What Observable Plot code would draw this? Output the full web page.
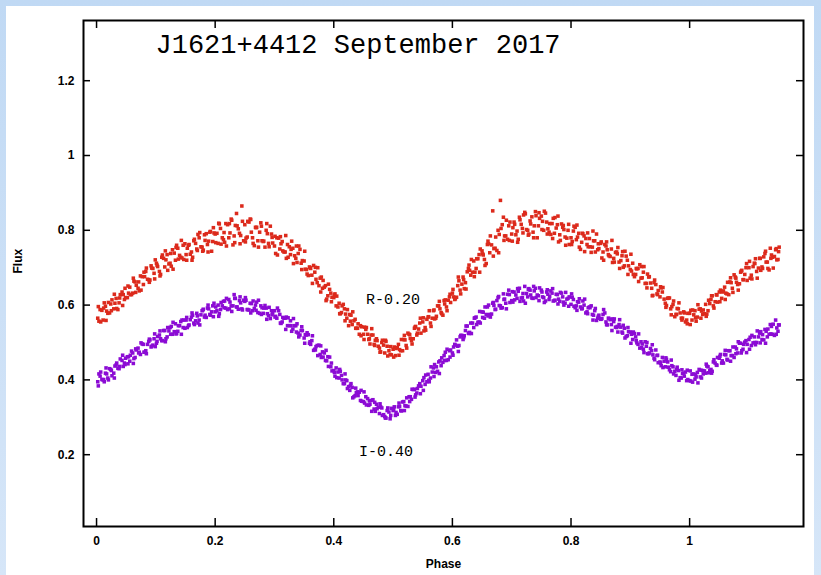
<!DOCTYPE html>
<html><head><meta charset="utf-8">
<script src="https://cdn.jsdelivr.net/npm/d3@7"></script>
<script src="https://cdn.jsdelivr.net/npm/@observablehq/plot@0.6"></script>
<style>
html,body{margin:0;padding:0;width:821px;height:575px;overflow:hidden;background:linear-gradient(180deg,#c0d9f4,#d6e6f8);}
#panel{position:absolute;left:6px;top:6px;width:808px;height:569px;background:#fff;}
#chart{position:absolute;left:0;top:0;}
</style></head><body><div id="panel"></div><div id="chart"></div>
<script>
const title = "J1621+4412 September 2017";
// first set of nightly points
const phase = [
0.002,0.006,0.011,0.015,0.019,0.024,0.029,0.033,0.038,0.043,0.047,
0.052,0.056,0.061,0.065,0.070,0.074,0.079,0.083,0.088,0.092,0.097,
0.101,0.106,0.110,0.115,0.119,0.124,0.128,0.133,0.137,0.142,0.146,
0.151,0.155,0.160,0.164,0.169,0.173,0.178,0.182,0.187,0.191,0.196,
0.200,0.205,0.209,0.214,0.218,0.223,0.227,0.232,0.236,0.241,0.245,
0.250,0.254,0.259,0.263,0.268,0.272,0.277,0.281,0.286,0.290,0.295,
0.300,0.304,0.309,0.313,0.318,0.322,0.327,0.331,0.336,0.340,0.345,
0.350,0.354,0.359,0.363,0.368,0.372,0.377,0.381,0.386,0.390,0.395,
0.400,0.404,0.409,0.413,0.418,0.422,0.427,0.431,0.436,0.440,0.445,
0.450,0.454,0.459,0.463,0.468,0.472,0.477,0.481,0.486,0.490,0.495,
0.500,0.504,0.509,0.513,0.518,0.522,0.527,0.531,0.536,0.540,0.545,
0.550,0.554,0.559,0.563,0.568,0.572,0.577,0.581,0.586,0.590,0.595,
0.600,0.604,0.609,0.613,0.618,0.622,0.627,0.631,0.636,0.640,0.645,
0.650,0.654,0.659,0.663,0.668,0.672,0.677,0.681,0.686,0.690,0.695,
0.700,0.704,0.709,0.713,0.718,0.722,0.727,0.731,0.736,0.740,0.745,
0.750,0.754,0.759,0.763,0.768,0.772,0.777,0.781,0.786,0.790,0.795,
0.800,0.804,0.809,0.813,0.818,0.822,0.827,0.831,0.836,0.840,0.845,
0.850,0.854,0.859,0.863,0.868,0.872,0.877,0.881,0.886,0.890,0.895,
0.900,0.904,0.909,0.913,0.918,0.922,0.927,0.931,0.936,0.940,0.945,
0.950,0.954,0.959,0.963,0.968,0.972,0.977,0.981,0.986,0.990,0.995,
1.000,1.004,1.009,1.013,1.018,1.022,1.027,1.031,1.036,1.040,1.045,
1.050,1.054,1.059,1.063,1.068,1.072,1.077,1.081,1.086,1.090,1.095,
1.100,1.104,1.109,1.113,1.118,1.122,1.127,1.131,1.136,1.140,1.145,1.149
];
const fluxR = [
0.565,0.588,0.560,0.597,0.578,0.603,0.590,0.618,0.606,0.635,0.615,
0.620,0.648,0.632,0.662,0.645,0.678,0.655,0.690,0.668,0.705,0.685,
0.712,0.690,0.728,0.702,0.735,0.712,0.748,0.720,0.752,0.728,0.760,
0.735,0.760,0.742,0.772,0.750,0.780,0.755,0.788,0.762,0.795,0.770,
0.790,0.765,0.805,0.775,0.818,0.780,0.830,0.785,0.845,0.792,0.865,
0.815,0.782,0.830,0.780,0.808,0.772,0.820,0.770,0.800,0.765,0.790,
0.758,0.780,0.750,0.770,0.742,0.762,0.735,0.752,0.725,0.738,0.712,
0.718,0.695,0.702,0.680,0.688,0.660,0.672,0.645,0.652,0.625,0.632,
0.620,0.598,0.605,0.580,0.590,0.565,0.575,0.548,0.562,0.538,0.545,
0.522,0.535,0.508,0.520,0.495,0.510,0.485,0.500,0.472,0.490,0.468,
0.482,0.465,0.495,0.478,0.508,0.492,0.522,0.505,0.538,0.520,0.552,
0.555,0.540,0.568,0.552,0.585,0.565,0.598,0.580,0.612,0.595,0.622,
0.632,0.615,0.652,0.640,0.675,0.660,0.698,0.680,0.718,0.698,0.735,
0.745,0.722,0.762,0.740,0.852,0.752,0.800,0.880,0.835,0.785,0.812,
0.790,0.822,0.798,0.835,0.805,0.848,0.800,0.825,0.795,0.850,0.812,
0.838,0.800,0.822,0.795,0.818,0.792,0.815,0.788,0.808,0.782,0.800,
0.780,0.798,0.775,0.792,0.768,0.785,0.762,0.778,0.755,0.772,0.748,
0.765,0.742,0.758,0.735,0.750,0.725,0.742,0.715,0.732,0.705,0.720,
0.695,0.712,0.682,0.698,0.672,0.688,0.658,0.675,0.645,0.660,0.630,
0.622,0.635,0.605,0.618,0.590,0.602,0.575,0.590,0.565,0.582,0.560,
0.578,0.560,0.585,0.568,0.590,0.575,0.602,0.585,0.615,0.598,0.628,
0.635,0.618,0.648,0.630,0.662,0.645,0.675,0.655,0.688,0.668,0.700,
0.700,0.680,0.712,0.690,0.725,0.702,0.738,0.715,0.752,0.728,0.748,0.722
];
const fluxI = [
0.395,0.410,0.400,0.418,0.405,0.428,0.418,0.440,0.430,0.452,0.445,
0.462,0.450,0.472,0.460,0.485,0.468,0.495,0.478,0.503,0.488,0.510,
0.498,0.520,0.505,0.532,0.515,0.540,0.522,0.550,0.530,0.556,0.540,
0.560,0.545,0.568,0.552,0.578,0.560,0.585,0.568,0.592,0.575,0.598,
0.582,0.600,0.588,0.610,0.592,0.615,0.598,0.628,0.595,0.612,0.590,
0.610,0.588,0.605,0.585,0.600,0.580,0.598,0.578,0.592,0.572,0.585,
0.585,0.565,0.575,0.555,0.565,0.545,0.558,0.536,0.545,0.525,0.532,
0.512,0.520,0.498,0.505,0.482,0.492,0.468,0.475,0.452,0.462,0.435,
0.425,0.432,0.405,0.412,0.390,0.398,0.372,0.380,0.358,0.368,0.345,
0.342,0.355,0.332,0.345,0.322,0.335,0.310,0.325,0.302,0.318,0.296,
0.318,0.305,0.328,0.318,0.342,0.330,0.355,0.348,0.375,0.365,0.390,
0.398,0.388,0.415,0.405,0.432,0.420,0.448,0.438,0.465,0.452,0.478,
0.472,0.495,0.490,0.515,0.508,0.532,0.525,0.552,0.540,0.568,0.555,
0.582,0.565,0.595,0.575,0.605,0.588,0.620,0.598,0.630,0.605,0.640,
0.612,0.635,0.618,0.645,0.620,0.650,0.622,0.640,0.618,0.645,0.625,
0.640,0.620,0.635,0.615,0.632,0.612,0.628,0.610,0.622,0.605,0.618,
0.602,0.615,0.598,0.608,0.590,0.600,0.582,0.595,0.575,0.585,0.565,
0.562,0.575,0.555,0.565,0.548,0.556,0.540,0.548,0.528,0.538,0.518,
0.528,0.508,0.515,0.495,0.502,0.482,0.490,0.470,0.478,0.458,0.465,
0.448,0.460,0.435,0.448,0.422,0.435,0.412,0.425,0.405,0.418,0.398,
0.398,0.415,0.402,0.420,0.408,0.425,0.418,0.435,0.428,0.448,0.440,
0.458,0.445,0.468,0.455,0.478,0.465,0.488,0.472,0.498,0.482,0.505,
0.508,0.492,0.515,0.500,0.525,0.508,0.535,0.515,0.548,0.522,0.560,0.530
];
// second set of nightly points
const phase2 = [
0.004,0.009,0.013,0.017,0.022,0.026,0.031,0.036,0.040,0.045,0.049,
0.054,0.059,0.063,0.067,0.072,0.077,0.081,0.086,0.090,0.095,0.099,
0.103,0.108,0.113,0.117,0.122,0.126,0.131,0.135,0.140,0.144,0.149,
0.153,0.158,0.162,0.167,0.171,0.176,0.180,0.185,0.189,0.194,0.198,
0.203,0.207,0.212,0.216,0.221,0.225,0.230,0.234,0.239,0.243,0.248,
0.252,0.257,0.261,0.266,0.270,0.275,0.279,0.284,0.288,0.293,0.297,
0.302,0.307,0.311,0.316,0.320,0.325,0.329,0.334,0.338,0.343,0.347,
0.352,0.357,0.361,0.366,0.370,0.375,0.379,0.384,0.388,0.393,0.397,
0.402,0.407,0.411,0.416,0.420,0.425,0.429,0.434,0.438,0.443,0.447,
0.452,0.457,0.461,0.466,0.470,0.475,0.479,0.484,0.488,0.493,0.497,
0.502,0.507,0.511,0.516,0.520,0.525,0.529,0.534,0.538,0.543,0.547,
0.552,0.557,0.561,0.566,0.570,0.575,0.579,0.584,0.588,0.593,0.597,
0.602,0.607,0.611,0.616,0.620,0.625,0.629,0.634,0.638,0.643,0.647,
0.652,0.657,0.661,0.666,0.670,0.675,0.679,0.684,0.688,0.693,0.697,
0.702,0.707,0.711,0.716,0.720,0.725,0.729,0.734,0.738,0.743,0.747,
0.752,0.757,0.761,0.766,0.770,0.775,0.779,0.784,0.788,0.793,0.797,
0.802,0.807,0.811,0.816,0.820,0.825,0.829,0.834,0.838,0.843,0.847,
0.852,0.857,0.861,0.866,0.870,0.875,0.879,0.884,0.888,0.893,0.897,
0.902,0.907,0.911,0.916,0.920,0.925,0.929,0.934,0.938,0.943,0.947,
0.952,0.957,0.961,0.966,0.970,0.975,0.979,0.984,0.988,0.993,0.997,
1.002,1.007,1.011,1.016,1.020,1.025,1.029,1.034,1.038,1.043,1.047,
1.052,1.057,1.061,1.066,1.070,1.075,1.079,1.084,1.088,1.093,1.097,
1.102,1.107,1.111,1.116,1.120,1.125,1.129,1.134,1.138,1.143,1.147,1.151
];
const fluxR2 = [
0.557,0.586,0.606,0.584,0.579,0.614,0.605,0.588,0.628,0.628,0.620,
0.632,0.628,0.664,0.653,0.638,0.676,0.676,0.669,0.667,0.698,0.721,
0.703,0.682,0.725,0.721,0.710,0.704,0.739,0.760,0.733,0.726,0.764,
0.752,0.736,0.728,0.765,0.789,0.756,0.747,0.791,0.771,0.744,0.793,
0.792,0.817,0.780,0.768,0.815,0.793,0.761,0.813,0.804,0.786,0.772,
0.779,0.822,0.795,0.759,0.808,0.795,0.772,0.755,0.791,0.811,0.766,
0.738,0.779,0.764,0.742,0.725,0.756,0.771,0.732,0.714,0.749,0.719,
0.696,0.679,0.698,0.706,0.669,0.652,0.675,0.648,0.616,0.642,0.621,
0.630,0.595,0.577,0.602,0.576,0.545,0.573,0.558,0.538,0.522,0.542,
0.541,0.522,0.496,0.520,0.506,0.490,0.475,0.493,0.503,0.478,0.467,
0.488,0.486,0.481,0.478,0.507,0.525,0.511,0.510,0.543,0.536,0.525,
0.531,0.562,0.585,0.565,0.563,0.598,0.590,0.573,0.614,0.613,0.607,
0.622,0.621,0.665,0.656,0.644,0.689,0.693,0.688,0.688,0.724,0.750,
0.734,0.711,0.764,0.761,0.751,0.746,0.789,0.815,0.785,0.776,0.822,
0.807,0.788,0.776,0.816,0.841,0.802,0.790,0.836,0.812,0.780,0.832,
0.824,0.846,0.804,0.789,0.832,0.806,0.769,0.817,0.802,0.779,0.762,
0.770,0.808,0.782,0.749,0.791,0.778,0.756,0.741,0.772,0.790,0.751,
0.726,0.762,0.748,0.730,0.714,0.741,0.754,0.719,0.701,0.731,0.705,
0.691,0.676,0.697,0.708,0.673,0.658,0.683,0.659,0.626,0.655,0.639,
0.646,0.616,0.599,0.619,0.596,0.569,0.591,0.579,0.565,0.555,0.578,
0.586,0.574,0.557,0.589,0.584,0.577,0.576,0.604,0.625,0.609,0.608,
0.640,0.638,0.632,0.628,0.660,0.681,0.661,0.657,0.693,0.682,0.666,
0.672,0.703,0.724,0.699,0.693,0.729,0.715,0.694,0.734,0.730,0.721,0.755
];
const fluxI2 = [
0.416,0.401,0.395,0.416,0.430,0.411,0.437,0.431,0.456,0.436,0.458,
0.462,0.477,0.457,0.480,0.474,0.496,0.474,0.495,0.507,0.493,0.489,
0.516,0.510,0.532,0.510,0.531,0.543,0.529,0.524,0.545,0.560,0.538,
0.540,0.561,0.573,0.558,0.552,0.574,0.589,0.567,0.590,0.582,0.605,
0.585,0.577,0.598,0.611,0.588,0.608,0.598,0.618,0.589,0.606,0.613,
0.613,0.587,0.604,0.591,0.608,0.578,0.593,0.599,0.577,0.564,0.579,
0.570,0.585,0.551,0.565,0.568,0.545,0.530,0.545,0.550,0.520,0.532,
0.521,0.521,0.495,0.479,0.489,0.493,0.460,0.472,0.451,0.461,0.424,
0.410,0.421,0.423,0.390,0.400,0.382,0.390,0.355,0.366,0.367,0.343,
0.338,0.350,0.335,0.347,0.316,0.327,0.328,0.307,0.298,0.314,0.324,
0.328,0.308,0.329,0.341,0.331,0.329,0.355,0.374,0.360,0.384,0.383,
0.406,0.395,0.395,0.421,0.441,0.423,0.451,0.447,0.474,0.454,0.480,
0.488,0.507,0.492,0.519,0.518,0.544,0.527,0.552,0.566,0.554,0.552,
0.581,0.575,0.600,0.576,0.599,0.612,0.599,0.593,0.616,0.629,0.607,
0.608,0.627,0.637,0.619,0.611,0.631,0.644,0.619,0.638,0.627,0.646,
0.622,0.611,0.629,0.638,0.611,0.629,0.616,0.632,0.600,0.616,0.622,
0.621,0.593,0.609,0.595,0.611,0.579,0.593,0.598,0.573,0.559,0.573,
0.564,0.579,0.547,0.561,0.563,0.541,0.528,0.541,0.546,0.516,0.529,
0.522,0.524,0.499,0.485,0.496,0.502,0.470,0.484,0.467,0.480,0.446,
0.438,0.450,0.455,0.427,0.438,0.423,0.434,0.406,0.417,0.421,0.401,
0.397,0.416,0.408,0.428,0.405,0.424,0.437,0.425,0.423,0.445,0.460,
0.468,0.445,0.467,0.478,0.465,0.460,0.483,0.498,0.478,0.501,0.495,
0.514,0.499,0.494,0.515,0.529,0.507,0.530,0.522,0.543,0.519,0.539,0.547
];
// third set of nightly points
const phase3 = [
0.003,0.007,0.012,0.016,0.020,0.025,0.030,0.034,0.039,0.044,0.048,
0.053,0.057,0.062,0.066,0.071,0.075,0.080,0.084,0.089,0.093,0.098,
0.102,0.107,0.111,0.116,0.120,0.125,0.129,0.134,0.138,0.143,0.147,
0.152,0.156,0.161,0.165,0.170,0.174,0.179,0.183,0.188,0.192,0.197,
0.201,0.206,0.210,0.215,0.219,0.224,0.228,0.233,0.237,0.242,0.246,
0.251,0.255,0.260,0.264,0.269,0.273,0.278,0.282,0.287,0.291,0.296,
0.301,0.305,0.310,0.314,0.319,0.323,0.328,0.332,0.337,0.341,0.346,
0.351,0.355,0.360,0.364,0.369,0.373,0.378,0.382,0.387,0.391,0.396,
0.401,0.405,0.410,0.414,0.419,0.423,0.428,0.432,0.437,0.441,0.446,
0.451,0.455,0.460,0.464,0.469,0.473,0.478,0.482,0.487,0.491,0.496,
0.501,0.505,0.510,0.514,0.519,0.523,0.528,0.532,0.537,0.541,0.546,
0.551,0.555,0.560,0.564,0.569,0.573,0.578,0.582,0.587,0.591,0.596,
0.601,0.605,0.610,0.614,0.619,0.623,0.628,0.632,0.637,0.641,0.646,
0.651,0.655,0.660,0.664,0.669,0.673,0.678,0.682,0.687,0.691,0.696,
0.701,0.705,0.710,0.714,0.719,0.723,0.728,0.732,0.737,0.741,0.746,
0.751,0.755,0.760,0.764,0.769,0.773,0.778,0.782,0.787,0.791,0.796,
0.801,0.805,0.810,0.814,0.819,0.823,0.828,0.832,0.837,0.841,0.846,
0.851,0.855,0.860,0.864,0.869,0.873,0.878,0.882,0.887,0.891,0.896,
0.901,0.905,0.910,0.914,0.919,0.923,0.928,0.932,0.937,0.941,0.946,
0.951,0.955,0.960,0.964,0.969,0.973,0.978,0.982,0.987,0.991,0.996,
1.001,1.005,1.010,1.014,1.019,1.023,1.028,1.032,1.037,1.041,1.046,
1.051,1.055,1.060,1.064,1.069,1.073,1.078,1.082,1.087,1.091,1.096,
1.101,1.105,1.110,1.114,1.119,1.123,1.128,1.132,1.137,1.141,1.146,1.150
];
const fluxR3 = [
0.596,0.555,0.592,0.559,0.607,0.585,0.629,0.591,0.619,0.599,0.645,
0.651,0.628,0.672,0.634,0.662,0.640,0.688,0.699,0.661,0.699,0.670,
0.707,0.678,0.734,0.745,0.693,0.738,0.696,0.754,0.723,0.773,0.722,
0.720,0.762,0.720,0.776,0.746,0.794,0.744,0.773,0.742,0.797,0.807,
0.767,0.819,0.763,0.794,0.758,0.818,0.827,0.767,0.812,0.764,0.824,
0.769,0.824,0.829,0.765,0.807,0.755,0.811,0.771,0.818,0.756,0.781,
0.784,0.734,0.783,0.745,0.786,0.728,0.749,0.711,0.758,0.758,0.695,
0.744,0.683,0.700,0.658,0.701,0.700,0.635,0.666,0.612,0.656,0.609,
0.627,0.624,0.577,0.598,0.558,0.588,0.557,0.582,0.538,0.550,0.518,
0.508,0.540,0.510,0.537,0.492,0.505,0.474,0.506,0.506,0.464,0.489,
0.461,0.484,0.466,0.508,0.519,0.485,0.521,0.496,0.541,0.525,0.565,
0.566,0.533,0.569,0.543,0.587,0.570,0.610,0.577,0.603,0.585,0.629,
0.642,0.617,0.675,0.630,0.668,0.643,0.707,0.722,0.676,0.724,0.688,
0.737,0.706,0.771,0.785,0.731,0.782,0.740,0.805,0.773,0.827,0.773,
0.771,0.816,0.768,0.828,0.793,0.844,0.787,0.817,0.780,0.839,0.847,
0.802,0.851,0.790,0.818,0.778,0.834,0.838,0.773,0.813,0.760,0.816,
0.762,0.811,0.814,0.755,0.792,0.743,0.793,0.756,0.798,0.742,0.764,
0.769,0.720,0.769,0.732,0.773,0.715,0.737,0.698,0.743,0.744,0.682,
0.736,0.682,0.698,0.663,0.703,0.703,0.646,0.676,0.625,0.667,0.628,
0.649,0.647,0.594,0.619,0.574,0.611,0.575,0.606,0.560,0.579,0.550,
0.548,0.587,0.566,0.601,0.565,0.587,0.570,0.613,0.625,0.592,0.627,
0.609,0.635,0.615,0.661,0.673,0.634,0.672,0.640,0.691,0.668,0.711,
0.717,0.670,0.711,0.672,0.725,0.698,0.744,0.698,0.725,0.699,0.751,0.743
];
const fluxI3 = [
0.384,0.421,0.401,0.432,0.400,0.425,0.405,0.445,0.436,0.466,0.441,
0.443,0.466,0.444,0.483,0.472,0.499,0.474,0.470,0.509,0.490,0.523,
0.503,0.531,0.505,0.502,0.540,0.522,0.554,0.523,0.545,0.522,0.560,
0.567,0.547,0.579,0.548,0.571,0.547,0.586,0.573,0.600,0.573,0.569,
0.595,0.570,0.607,0.593,0.618,0.590,0.583,0.618,0.595,0.622,0.587,
0.620,0.588,0.579,0.611,0.586,0.613,0.575,0.592,0.562,0.594,0.574,
0.568,0.592,0.552,0.567,0.535,0.566,0.545,0.564,0.528,0.515,0.542,
0.498,0.526,0.502,0.518,0.480,0.465,0.491,0.461,0.479,0.436,0.445,
0.420,0.406,0.428,0.400,0.416,0.377,0.385,0.352,0.378,0.358,0.372,
0.368,0.333,0.344,0.316,0.340,0.323,0.336,0.305,0.298,0.325,0.305,
0.321,0.313,0.338,0.317,0.318,0.352,0.342,0.375,0.354,0.377,0.363,
0.372,0.413,0.399,0.435,0.409,0.435,0.417,0.459,0.452,0.482,0.461,
0.466,0.493,0.476,0.519,0.513,0.544,0.524,0.524,0.565,0.548,0.583,
0.567,0.595,0.571,0.568,0.607,0.589,0.623,0.592,0.615,0.590,0.628,
0.636,0.614,0.644,0.610,0.631,0.605,0.642,0.627,0.650,0.620,0.612,
0.635,0.607,0.641,0.623,0.644,0.613,0.603,0.634,0.608,0.634,0.597,
0.630,0.597,0.586,0.617,0.591,0.616,0.577,0.593,0.560,0.591,0.570,
0.563,0.588,0.548,0.564,0.532,0.563,0.543,0.561,0.525,0.512,0.540,
0.498,0.528,0.505,0.523,0.486,0.473,0.500,0.472,0.494,0.454,0.466,
0.445,0.433,0.459,0.434,0.453,0.416,0.428,0.399,0.427,0.410,0.426,
0.424,0.394,0.414,0.392,0.426,0.416,0.442,0.419,0.418,0.454,0.439,
0.463,0.451,0.479,0.453,0.450,0.488,0.470,0.502,0.472,0.495,0.473,
0.482,0.519,0.500,0.531,0.499,0.521,0.498,0.536,0.523,0.549,0.522,0.547
];
const xTicks = [0, 0.2, 0.4, 0.6, 0.8, 1];
const yTicks = [0.2, 0.4, 0.6, 0.8, 1, 1.2];
const curveLabels = [
  {phase: 0.500, flux: 0.615, text: "R-0.20"},
  {phase: 0.488, flux: 0.209, text: "I-0.40"}
];

const W = 821, H = 575, mL = 83, mR = 18, mT = 20, mB = 49;
const innerW = W - mL - mR, innerH = H - mT - mB;
const toRows = (ps, fs) => ps.map((p, i) => ({phase: p, flux: fs[i]}));
const rowsR = [...toRows(phase, fluxR), ...toRows(phase2, fluxR2), ...toRows(phase3, fluxR3)];
const rowsI = [...toRows(phase, fluxI), ...toRows(phase2, fluxI2), ...toRows(phase3, fluxI3)];
const mono = "Liberation Mono, DejaVu Sans Mono, monospace";

const chart = Plot.plot({
  width: W, height: H,
  marginLeft: mL, marginRight: mR, marginTop: mT, marginBottom: mB,
  style: {background: "transparent", fontFamily: "Liberation Sans, Arial, sans-serif", fontSize: "12px", color: "black"},
  x: {domain: [-0.022, 1.192]},
  y: {domain: [0.008, 1.361]},
  marks: [
    Plot.dot(rowsR, {x: "phase", y: "flux", symbol: "square", r: 2, fill: "#dc2a1c", stroke: "none"}),
    Plot.dot(rowsI, {x: "phase", y: "flux", symbol: "square", r: 2, fill: "#8b0bd4", stroke: "none"}),
    Plot.tickX(xTicks, {x: d => d, insetTop: innerH - 8, stroke: "black", strokeWidth: 1.5}),
    Plot.tickX(xTicks, {x: d => d, insetBottom: innerH - 8, stroke: "black", strokeWidth: 1.5}),
    Plot.tickY(yTicks, {y: d => d, insetRight: innerW - 7, stroke: "black", strokeWidth: 1.5}),
    Plot.tickY(yTicks, {y: d => d, insetLeft: innerW - 7, stroke: "black", strokeWidth: 1.5}),
    Plot.axisX({ticks: xTicks, tickSize: 0, tickPadding: 10, label: null, fontWeight: "bold", fontSize: 12, tickFormat: d => String(d)}),
    Plot.axisY({ticks: yTicks, tickSize: 0, tickPadding: 9, label: null, fontWeight: "bold", fontSize: 12, tickFormat: d => String(d)}),
    Plot.text(["Flux"], {frameAnchor: "left", dx: -65, rotate: -90, fontWeight: "bold", fontSize: 12}),
    Plot.text(["Phase"], {frameAnchor: "bottom", dy: 41, fontWeight: "bold", fontSize: 12}),
    Plot.text([title], {frameAnchor: "top-left", dx: 72, dy: 13, textAnchor: "start", fontFamily: mono, fontSize: 27}),
    Plot.text(curveLabels, {x: "phase", y: "flux", text: "text", fontFamily: mono, fontSize: 15}),
    Plot.frame({stroke: "black", strokeWidth: 2})
  ]
});
document.getElementById("chart").appendChild(chart);
</script></body></html>
